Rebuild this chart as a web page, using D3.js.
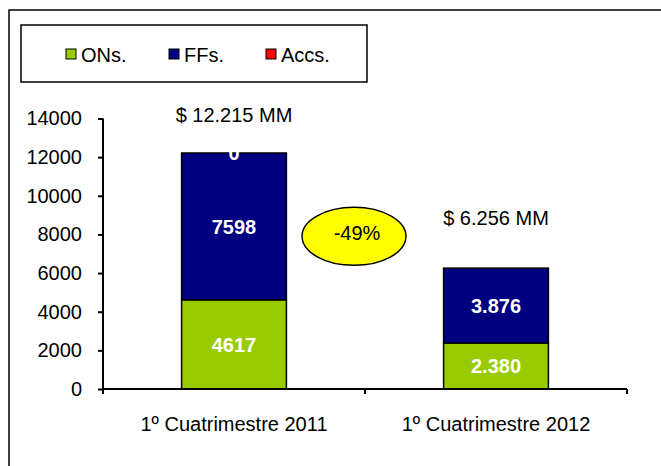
<!DOCTYPE html>
<html>
<head>
    <title>ONs / FFs / Accs</title>
    <script src="https://d3js.org/d3.v7.min.js"></script>
    <style>
        body { margin: 0; background: #fff; }
        text { font-family: "Liberation Sans", Arial, sans-serif; }
    </style>
</head>
<body>
<svg width="661" height="466"></svg>
<script>
    const categories = ["1º Cuatrimestre 2011", "1º Cuatrimestre 2012"];
    const seriesNames = ["ONs.", "FFs.", "Accs."];
    const onsValues = [4617, 2380];
    const ffsValues = [7598, 3876];
    const accsValues = [0, 0];
    const onsLabels = ["4617", "2.380"];
    const ffsLabels = ["7598", "3.876"];
    const accsLabels = ["0", ""];
    const totalLabels = ["$ 12.215 MM", "$ 6.256 MM"];
    const yTicks = [0, 2000, 4000, 6000, 8000, 10000, 12000, 14000];

    const colors = ["#99CC00", "#000080", "#FF0000"];
    const fontSize = 20;

    const svg = d3.select("svg");

    // outer frame (runs off the right and bottom edges)
    svg.append("rect")
        .attr("x", 9).attr("y", 10)
        .attr("width", 700).attr("height", 500)
        .attr("fill", "none").attr("stroke", "#000").attr("stroke-width", 1.5);

    // legend
    svg.append("rect")
        .attr("x", 21).attr("y", 25)
        .attr("width", 346).attr("height", 57)
        .attr("fill", "#fff").attr("stroke", "#000").attr("stroke-width", 1.5);

    const legendX = [66, 169, 266];
    const legend = svg.selectAll(".legend")
        .data(seriesNames)
        .enter().append("g")
        .attr("class", "legend")
        .attr("transform", (d, i) => "translate(" + legendX[i] + ",49)");
    legend.append("rect")
        .attr("width", 10).attr("height", 10)
        .attr("fill", (d, i) => colors[i])
        .attr("stroke", "#000").attr("stroke-width", 1);
    legend.append("text")
        .attr("x", 15).attr("y", 13)
        .style("font-size", fontSize + "px")
        .text(d => d);

    // scales
    const x = d3.scaleBand()
        .domain(categories)
        .range([103, 627])
        .paddingInner(0.6)
        .paddingOuter(0.3);

    const y = d3.scaleLinear()
        .domain([0, 14000])
        .range([389, 118.5]);

    const rows = categories.map((c, i) => ({
        cat: c, ons: onsValues[i], ffs: ffsValues[i], accs: accsValues[i]
    }));
    const labels = [onsLabels, ffsLabels, accsLabels];
    const stack = d3.stack().keys(["ons", "ffs", "accs"]);
    const layers = stack(rows);

    // bars
    layers.forEach((layer, li) => {
        svg.append("g").selectAll("rect")
            .data(layer)
            .enter().append("rect")
            .attr("x", d => x(d.data.cat))
            .attr("width", x.bandwidth())
            .attr("y", d => y(d[1]))
            .attr("height", d => y(d[0]) - y(d[1]))
            .attr("fill", colors[li])
            .attr("stroke", d => d[1] > d[0] ? "#000" : "none")
            .attr("stroke-width", 1.5);
    });

    // value labels
    layers.forEach((layer, li) => {
        svg.append("g").selectAll("text")
            .data(layer)
            .enter().append("text")
            .attr("x", d => x(d.data.cat) + x.bandwidth() / 2)
            .attr("y", d => (y(d[0]) + y(d[1])) / 2)
            .attr("dy", "0.36em")
            .attr("text-anchor", "middle")
            .style("font-size", fontSize + "px")
            .style("font-weight", "bold")
            .attr("fill", "#fff")
            .text((d, i) => labels[li][i]);
    });

    // y axis
    const yAxis = d3.axisLeft(y)
        .tickValues(yTicks)
        .tickFormat(d3.format("d"))
        .tickSize(5)
        .tickPadding(16);
    const gy = svg.append("g")
        .attr("transform", "translate(103,0)")
        .call(yAxis);
    gy.select(".domain").attr("d", "M0," + y(14000) + "V" + y(0));

    // x axis: labels centred, ticks on category boundaries
    const xAxis = d3.axisBottom(x).tickSize(0).tickPadding(28);
    const gx = svg.append("g")
        .attr("transform", "translate(0," + y(0) + ")")
        .call(xAxis);
    gx.select(".domain").attr("d", "M" + x.range()[0] + ",0H" + x.range()[1]);
    const bounds = d3.range(categories.length + 1).map(i => x.range()[0] + i * x.step());
    gx.selectAll(".bound")
        .data(bounds)
        .enter().append("line")
        .attr("class", "bound")
        .attr("x1", d => d).attr("x2", d => d)
        .attr("y1", 0).attr("y2", 5)
        .attr("stroke", "#000").attr("stroke-width", 2);

    svg.selectAll(".tick text")
        .style("font-size", fontSize + "px")
        .style("font-family", "'Liberation Sans', Arial, sans-serif")
        .attr("fill", "#000");
    svg.selectAll(".domain, .tick line")
        .attr("stroke", "#000").attr("stroke-width", 2);

    // totals above bars
    const totalOffsets = [31, 43];
    svg.selectAll(".total")
        .data(rows)
        .enter().append("text")
        .attr("class", "total")
        .attr("x", d => x(d.cat) + x.bandwidth() / 2)
        .attr("y", (d, i) => y(d.ons + d.ffs + d.accs) - totalOffsets[i])
        .attr("text-anchor", "middle")
        .style("font-size", fontSize + "px")
        .text((d, i) => totalLabels[i]);

    // change bubble
    const t0 = onsValues[0] + ffsValues[0] + accsValues[0];
    const t1 = onsValues[1] + ffsValues[1] + accsValues[1];
    const change = Math.round((t1 / t0 - 1) * 100);
    const cx = x.range()[0] + x.step() - 11;
    const cy = y(7900);
    svg.append("ellipse")
        .attr("cx", cx).attr("cy", cy)
        .attr("rx", 52).attr("ry", 29)
        .attr("fill", "#FFFF00")
        .attr("stroke", "#000").attr("stroke-width", 1.5);
    svg.append("text")
        .attr("x", cx + 3).attr("y", cy - 4)
        .attr("dy", "0.36em")
        .attr("text-anchor", "middle")
        .style("font-size", fontSize + "px")
        .text(change + "%");
</script>
</body>
</html>
